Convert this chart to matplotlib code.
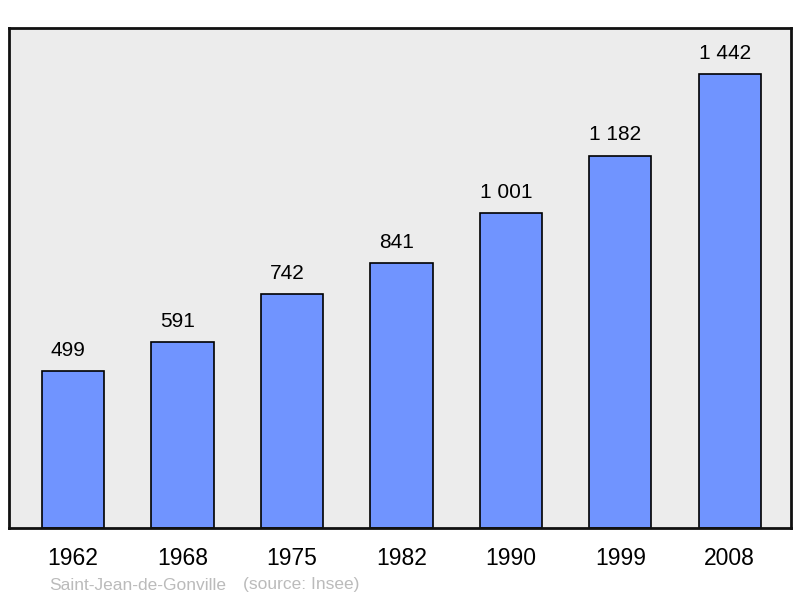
import matplotlib.pyplot as plt

years = ['1962', '1968', '1975', '1982', '1990', '1999', '2008']
population = [499, 591, 742, 841, 1001, 1182, 1442]
value_labels = ['499', '591', '742', '841', '1 001', '1 182', '1 442']

plt.rcParams['font.family'] = ['Liberation Sans', 'DejaVu Sans']

fig = plt.figure(figsize=(8, 5.98), dpi=100)
ax = fig.add_axes([9 / 800, 70 / 598, 782 / 800, 500 / 598])
ax.set_facecolor('#ececec')

x = range(len(years))
bars = ax.bar(x, population, width=0.57, color='#7094ff', edgecolor='black', linewidth=1.2, zorder=2)

# labels sit a little left of the bar centre in the original
for b, lab in zip(bars, value_labels):
    ax.annotate(lab, (b.get_x() + b.get_width() / 2, b.get_height()),
                xytext=(-3.6, 8), textcoords='offset points',
                ha='center', va='bottom', fontsize=15)

ax.set_xlim(-0.585, 6.56)
ax.set_ylim(0, 1587)
ax.set_xticks(list(x))
ax.set_xticklabels(years, fontsize=16.5)
ax.tick_params(axis='x', length=0, pad=14)
ax.set_yticks([])
for s in ax.spines.values():
    s.set_linewidth(2)
    s.set_color('#111111')

fig.text(49 / 800, 1 - 585 / 598, 'Saint-Jean-de-Gonville', color='#bbbbbb', fontsize=12.5, va='center')
fig.text(243 / 800, 1 - 585 / 598, '(source: Insee)', color='#bbbbbb', fontsize=12.5, va='center')

fig.savefig('out.png', dpi=100)
